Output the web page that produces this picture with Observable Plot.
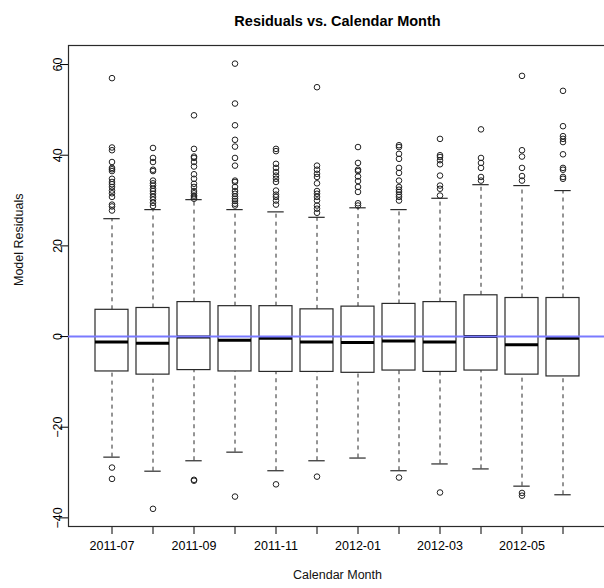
<!DOCTYPE html>
<html>
<head>
<meta charset="utf-8">
<script src="https://cdn.jsdelivr.net/npm/d3@7"></script>
<script src="https://cdn.jsdelivr.net/npm/@observablehq/plot@0.6"></script>
<style>
  html, body { margin: 0; padding: 0; background: #fff; }
  #chart svg { display: block; }
</style>
</head>
<body>
<div id="chart"></div>
<script>
const months = ["2011-07","2011-08","2011-09","2011-10","2011-11","2011-12",
                "2012-01","2012-02","2012-03","2012-04","2012-05","2012-06"];
const shownMonthLabels = ["2011-07","2011-09","2011-11","2012-01","2012-03","2012-05"];
const q1      = [-7.7, -8.4, -7.4, -7.7, -7.8, -7.8, -8.0, -7.5, -7.8, -7.5, -8.4, -8.8];
const medians = [-1.2, -1.5, -0.1, -0.8, -0.4, -1.2, -1.3, -1.0, -1.2,  0.0, -1.8, -0.4];
const q3      = [ 5.9,  6.3,  7.6,  6.7,  6.7,  6.0,  6.6,  7.2,  7.6,  9.1,  8.5,  8.5];
const whiskerLow  = [-26.6, -29.7, -27.4, -25.5, -29.6, -27.4, -26.8, -29.6, -28.1, -29.2, -33.0, -34.9];
const whiskerHigh = [ 26.0,  28.0,  30.2,  28.0,  27.5,  26.3,  28.4,  28.0,  30.5,  33.5,  33.3,  32.2];
const outliers = [
  [57.0, 41.7, 41.1, 38.5, 37.2, 36.9, 36.5, 34.8, 34.1, 33.6, 33.0, 32.2, 31.6, 30.8, 29.1, 28.7, 27.8, -28.9, -31.4],
  [41.6, 39.4, 38.5, 36.8, 36.5, 34.4, 33.8, 33.3, 32.6, 32.1, 31.5, 30.8, 30.2, 29.5, 28.8, -38.0],
  [48.8, 41.4, 39.7, 39.4, 38.5, 37.5, 35.8, 34.8, 33.7, 33.0, 32.1, 31.6, 31.1, 30.8, 30.4, -31.6, -31.8],
  [60.2, 51.4, 46.6, 43.4, 41.9, 39.4, 37.7, 34.4, 34.1, 33.0, 32.1, 31.5, 30.9, 30.4, 29.9, 29.3, 28.9, -35.3],
  [41.4, 40.9, 38.1, 37.2, 36.3, 35.5, 34.8, 34.1, 32.2, 31.3, 30.8, 30.0, 29.1, -32.6],
  [55.0, 37.7, 36.8, 35.9, 35.2, 33.8, 32.1, 31.5, 30.8, 30.0, 28.9, 28.2, 27.3, -30.9],
  [41.8, 38.3, 36.8, 36.5, 35.3, 34.3, 33.0, 31.9, 29.4, 28.9],
  [42.2, 41.8, 40.3, 39.2, 37.2, 36.1, 34.4, 33.0, 32.4, 31.9, 31.3, 30.8, 30.0, -31.1],
  [43.6, 40.0, 39.6, 38.9, 38.0, 35.5, 33.3, 32.6, 31.1, -34.4],
  [45.7, 39.4, 38.3, 37.2, 35.2, 34.4],
  [57.5, 41.1, 39.7, 37.2, 35.4, 34.4, -34.5, -35.1],
  [54.2, 46.4, 44.2, 43.6, 42.9, 40.2, 37.2, 36.8, 35.2, 34.8]
];
const yTicks = [-40, -20, 0, 20, 40, 60];
const yDomain = [-41.9, 64.2];
const title = "Residuals vs. Calendar Month";
const xTitle = "Calendar Month";
const yTitle = "Model Residuals";

const boxes = months.map((m, i) => ({
  month: m, q1: q1[i], median: medians[i], q3: q3[i],
  lo: whiskerLow[i], hi: whiskerHigh[i]
}));
const outlierRows = months.flatMap((m, i) => outliers[i].map(v => ({month: m, value: v})));

const ink = "#2a2a2a";
const chart = Plot.plot({
  width: 604,
  height: 588,
  marginTop: 45,
  marginBottom: 62,
  marginLeft: 68,
  marginRight: -2,
  style: {fontFamily: "'Liberation Sans', Arial, sans-serif", fontSize: "12.5px", color: "#000", background: "#fff"},
  x: {
    type: "band", domain: months, paddingInner: 0.2, paddingOuter: 0.58,
    tickSize: 8, tickPadding: 7, label: null,
    tickFormat: d => shownMonthLabels.includes(d) ? d : ""
  },
  y: {
    domain: yDomain, ticks: yTicks, tickSize: 8, tickPadding: -1, tickRotate: -90, label: null
  },
  marks: [
    Plot.frame({stroke: ink, strokeWidth: 1.2}),
    Plot.ruleX(boxes, {x: "month", y1: "q3", y2: "hi", stroke: ink, strokeDasharray: "4,4"}),
    Plot.ruleX(boxes, {x: "month", y1: "lo", y2: "q1", stroke: ink, strokeDasharray: "4,4"}),
    Plot.tickY(boxes, {x: "month", y: "hi", stroke: ink, strokeWidth: 1.2, insetLeft: 8.3, insetRight: 8.3}),
    Plot.tickY(boxes, {x: "month", y: "lo", stroke: ink, strokeWidth: 1.2, insetLeft: 8.3, insetRight: 8.3}),
    Plot.barY(boxes, {x: "month", y1: "q1", y2: "q3", fill: "white", stroke: ink, strokeWidth: 1.2}),
    Plot.tickY(boxes, {x: "month", y: "median", stroke: "#000", strokeWidth: 3}),
    Plot.dot(outlierRows, {x: "month", y: "value", r: 2.8, stroke: "#222", strokeWidth: 1, fill: "none"}),
    Plot.ruleY([0], {stroke: "#7a7aff", strokeWidth: 2}),
    Plot.text([title], {frameAnchor: "top", dy: -30, fontWeight: "bold", fontSize: 14.5, fill: "#000"}),
    Plot.text([xTitle], {frameAnchor: "bottom", dy: 52, fontSize: 12.5, fill: "#111"}),
    Plot.text([yTitle], {frameAnchor: "left", dx: -50, rotate: -90, fontSize: 12.5, fill: "#111"})
  ]
});
document.getElementById("chart").appendChild(chart);
</script>
</body>
</html>
